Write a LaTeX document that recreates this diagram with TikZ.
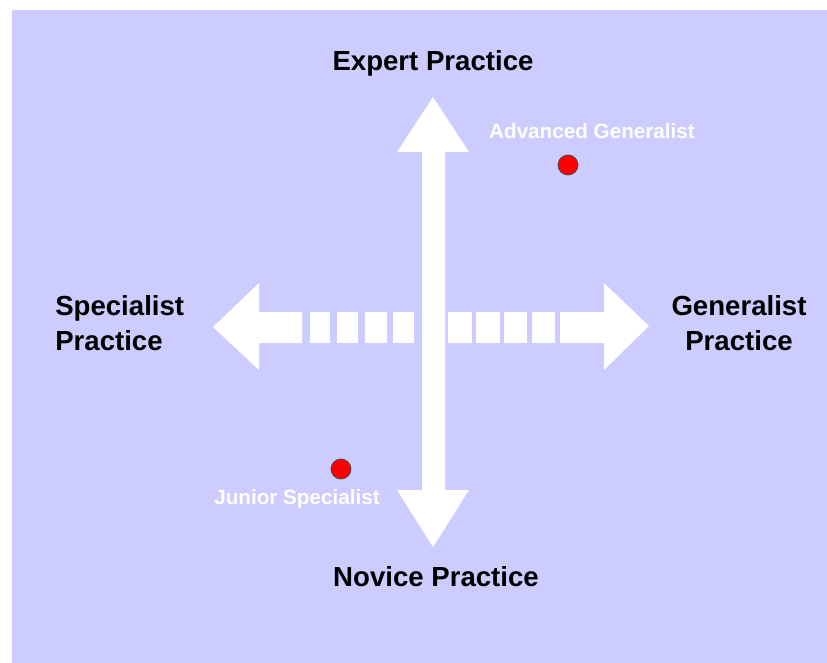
\documentclass[tikz,border=0pt]{standalone}
\usepackage{fontspec}
\setmainfont{Liberation Sans}
\usetikzlibrary{positioning}

\definecolor{lavender}{HTML}{CCCCFF}
\definecolor{dotred}{HTML}{FF0000}

\begin{document}
\begin{tikzpicture}[
    x=0.75pt, y=-0.75pt,
    axislabel/.style={font=\fontsize{20.7}{26}\selectfont\bfseries, text=black, inner sep=0pt},
    pointlabel/.style={font=\fontsize{15.5}{18}\selectfont\bfseries, text=white, inner sep=0pt},
    point/.style={circle, fill=dotred, draw=black!70, line width=0.6pt, minimum size=15pt, inner sep=0pt},
    arrowshape/.style={fill=white, draw=none}
]

% --- Page and background ---
\useasboundingbox (0,0) rectangle (827,663);
\fill[lavender] (12,10) rectangle (827,663);

% --- Horizontal arrow, solid parts ---
\fill[arrowshape] (213,327) -- (259,283) -- (259,312) -- (302,312)
    -- (302,343) -- (259,343) -- (259,370) -- cycle;
\fill[arrowshape] (649,326) -- (604,283) -- (604,312) -- (560,312)
    -- (560,343) -- (604,343) -- (604,370) -- cycle;

% --- Horizontal arrow, dashed parts ---
\foreach \a/\b in {310/330, 337/358, 365/387, 393/414,
                   448/472, 476/500, 504/527, 532/555}
    \fill[arrowshape] (\a,312) rectangle (\b,343);

% --- Vertical arrow ---
\fill[arrowshape] (433,97) -- (469,152) -- (445,152) -- (445,490)
    -- (469,490) -- (433,547) -- (397,490) -- (422,490)
    -- (422,152) -- (397,152) -- cycle;

% --- Axis labels ---
\node[axislabel] (expert) at (433,63) {Expert Practice};
\node[axislabel] (novice) at (436,577) {Novice Practice};
\node[axislabel, align=left, anchor=west] (special) at (55,323) {Specialist\\Practice};
\node[axislabel, align=center] (general) at (739,323) {Generalist\\Practice};

% --- Points ---
\node[point] (advdot) at (568,165) {};
\node[pointlabel] (adv) at (592,131) {Advanced Generalist};
\node[point] (jundot) at (341,469) {};
\node[pointlabel] (jun) at (297,499) {Junior Specialist};

\end{tikzpicture}
\end{document}
